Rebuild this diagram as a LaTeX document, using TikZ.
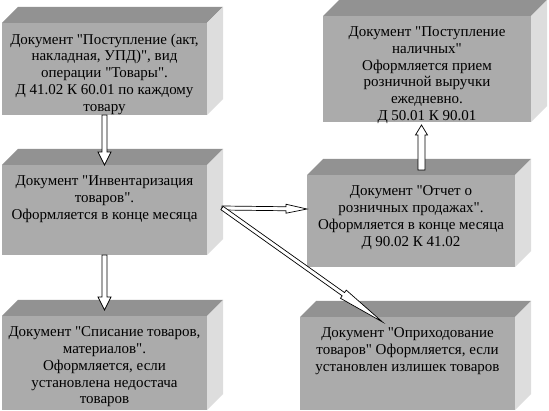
\documentclass[tikz,border=0pt]{standalone}
\usepackage{fontspec}
\setmainfont{Liberation Serif}[Ligatures=TeXOff]
\usetikzlibrary{calc}
\definecolor{cubeFront}{HTML}{ABABAB}
\definecolor{cubeTop}{HTML}{929292}
\definecolor{cubeSide}{HTML}{DDDDDD}
\tikzset{
  cube/front/.style={fill=cubeFront, draw=none, inner sep=0pt, outer sep=0pt},
  cube/top/.style={fill=cubeTop},
  cube/side/.style={fill=cubeSide},
  cube/text/.style={font=\fontsize{15}{16.8}\selectfont, align=center,
    text=black, inner sep=0pt, anchor=north},
  cube/arrow/.style={draw=black, fill=white, line width=0.7pt, line join=miter},
}
% hollow block arrow: shaft half width, head length, head half width, from, to
\newcommand{\hollowarrow}[5]{%
  \path ($(#5)!#2!(#4)$) coordinate (ahead);
  \draw[cube/arrow] ($(#4)!#1!90:(#5)$) -- ($(ahead)!#1!90:(#5)$)
    -- ($(ahead)!#3!90:(#5)$) -- (#5) -- ($(ahead)!#3!-90:(#5)$)
    -- ($(ahead)!#1!-90:(#5)$) -- ($(#4)!#1!-90:(#5)$) -- cycle;
}

\begin{document}
\begin{tikzpicture}[x=1pt, y=1pt]
\useasboundingbox (0,0) rectangle (549,410);

% front faces
\node[cube/front, minimum width=205pt, minimum height=92pt] (recv) at (104.5,341) {};
\node[cube/front, minimum width=208pt, minimum height=106pt] (cash) at (427,341) {};
\node[cube/front, minimum width=205pt, minimum height=90pt] (inv) at (104.5,200) {};
\node[cube/front, minimum width=208pt, minimum height=92pt] (sales) at (411,189) {};
\node[cube/front, minimum width=205pt, minimum height=94pt] (short) at (104.5,47) {};
\node[cube/front, minimum width=215pt, minimum height=93pt] (surplus) at (407.5,46.5) {};

% top and side faces
\foreach \b in {recv,cash,inv,sales,short,surplus} {
  \fill[cube/top] (\b.north west) -- ++(16,16) -- ([shift={(16,16)}]\b.north east)
    -- (\b.north east) -- cycle;
  \fill[cube/side] (\b.north east) -- ++(16,16) -- ([shift={(16,16)}]\b.south east)
    -- (\b.south east) -- cycle;
}

% texts
\node[cube/text] (recvtext) at ([yshift=-10.5pt]recv.north)
  {Документ "Поступление (акт,\\накладная, УПД)", вид\\операции "Товары".\\Д 41.02 К 60.01 по каждому\\товару};
\node[cube/text] (cashtext) at ([yshift=-10.5pt]cash.north)
  {Документ "Поступление\\наличных"\\Оформляется прием\\розничной выручки\\ежедневно.\\Д 50.01 К 90.01};
\node[cube/text] (invtext) at ([yshift=-10.5pt]inv.north)
  {Документ "Инвентаризация\\товаров".\\Оформляется в конце месяца};
\node[cube/text] (salestext) at ([yshift=-10.5pt]sales.north)
  {Документ "Отчет о\\розничных продажах".\\Оформляется в конце месяца\\Д 90.02 К 41.02};
\node[cube/text] (shorttext) at ([yshift=-10.5pt]short.north)
  {Документ "Списание товаров,\\материалов".\\Оформляется, если\\установлена недостача\\товаров};
\node[cube/text] (surplustext) at ([yshift=-10.5pt]surplus.north)
  {Документ "Оприходование\\товаров" Оформляется, если\\установлен излишек товаров};

% arrow ends
\coordinate (invside) at ([shift={(15,2)}]inv.east);
\coordinate (salesin) at ([yshift=12pt]sales.west);
\coordinate (salesup) at ([shift={(10.5,5)}]sales.north);
\coordinate (cashtip) at ([shift={(-5.5,-3)}]cash.south);
\coordinate (shorttip) at ([yshift=6pt]short.north);
\coordinate (surplustip) at ([shift={(-25,-5)}]surplus.north);

\hollowarrow{2.5pt}{13pt}{6.5pt}{recv.south}{inv.north}
\hollowarrow{2.5pt}{13pt}{6.5pt}{inv.south}{shorttip}
\hollowarrow{2pt}{21pt}{4.5pt}{invside}{salesin}
\hollowarrow{2pt}{48pt}{5pt}{invside}{surplustip}
\hollowarrow{3.5pt}{10pt}{6pt}{salesup}{cashtip}
\end{tikzpicture}
\end{document}
